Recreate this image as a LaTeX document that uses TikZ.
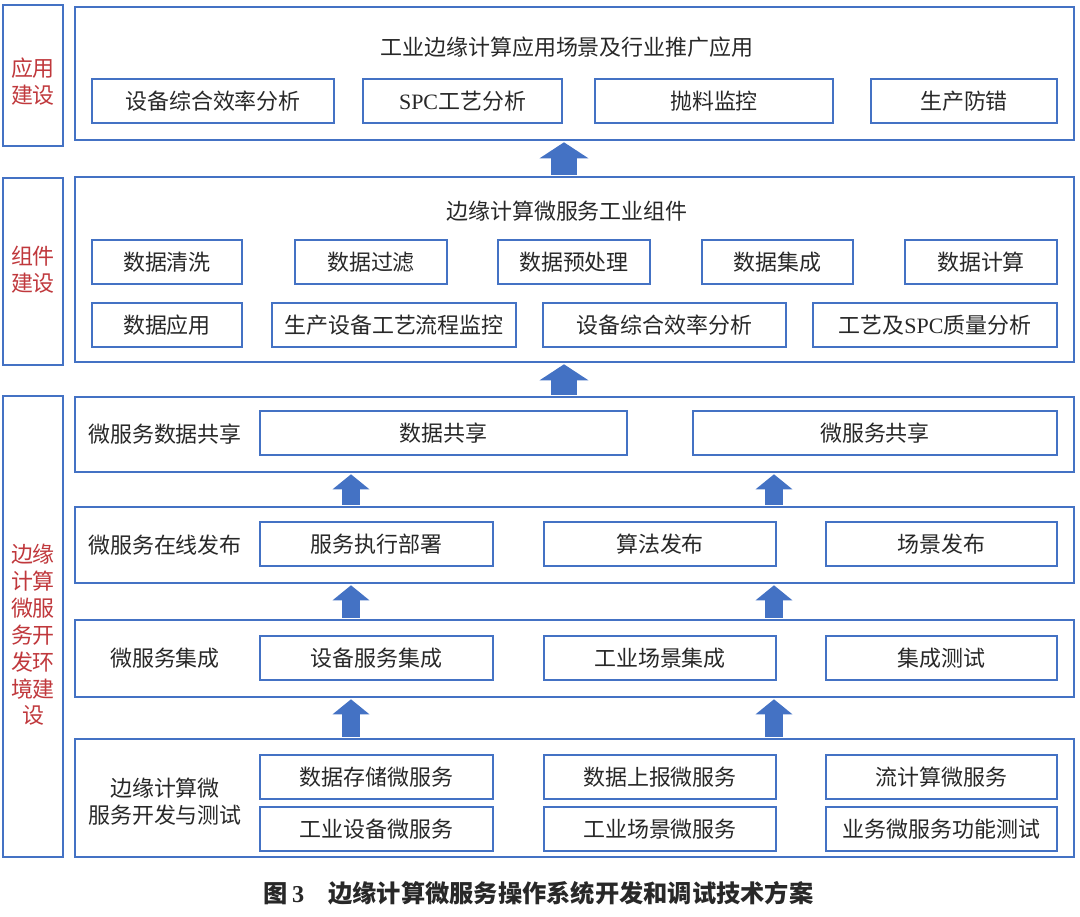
\documentclass[tikz,border=0pt]{standalone}
\usepackage{fontspec}
\setmainfont{Noto Sans CJK SC}
\newfontfamily\latin{Liberation Serif}
\usetikzlibrary{arrows.meta}

\definecolor{boxblue}{RGB}{68,114,196}
\definecolor{labelred}{RGB}{192,56,60}
\definecolor{txt}{RGB}{40,40,40}
\newcommand{\spc}{{\latin SPC}}

\tikzset{
  blk/.style={draw=boxblue,line width=0.9pt,inner sep=0pt,text=txt},
  side/.style={blk,minimum width=1.2cm},
  sidetext/.style={text=labelred,align=center},
  layer/.style={blk,minimum width=19.98cm},
  bigup/.style={boxblue,line width=0.52cm,shorten <=0.03cm,shorten >=0.03cm,-{Triangle[width=0.96cm,length=0.32cm]}},
  smallup/.style={boxblue,line width=0.36cm,shorten <=0.03cm,shorten >=0.03cm,-{Triangle[width=0.72cm,length=0.30cm]}}
}

\begin{document}
\begin{tikzpicture}[x=0.02cm,y=-0.02cm,font=\fontsize{12.5}{15.3}\selectfont]
        % Background
        \useasboundingbox[fill=white] (0,0) rectangle (1080,917);

        % Side labels
        \node[side,minimum height=2.82cm] (side1) at (33,75.5) {};
        \node[side,minimum height=3.74cm] (side2) at (33,271.5) {};
        \node[side,minimum height=9.22cm] (side3) at (33,626.5) {};
        \node[sidetext] (side1txt) at (33,82) {应用\\建设};
        \node[sidetext] (side2txt) at (33,270) {组件\\建设};
        \node[sidetext] (side3txt) at (33,635) {边缘\\计算\\微服\\务开\\发环\\境建\\设};

        % Layers
        \node[layer,minimum height=2.66cm] (app) at (574.5,73.5) {};
        \node[layer,minimum height=3.70cm] (comp) at (574.5,269.5) {};
        \node[layer,minimum height=1.50cm] (share) at (574.5,434.5) {};
        \node[layer,minimum height=1.52cm] (pub) at (574.5,545) {};
        \node[layer,minimum height=1.54cm] (integ) at (574.5,658.5) {};
        \node[layer,minimum height=2.36cm] (dev) at (574.5,798) {};

        % Titles
        \node[text=txt] (apptitle) at (567,47) {工业边缘计算应用场景及行业推广应用};
        \node[text=txt] (comptitle) at (567,211) {边缘计算微服务工业组件};
        \node[text=txt] (sharelbl) at (165,434) {微服务数据共享};
        \node[text=txt] (publbl) at (165,545) {微服务在线发布};
        \node[text=txt] (integlbl) at (165,658) {微服务集成};
        \node[text=txt,align=center] (devlbl) at (165,802) {边缘计算微\\服务开发与测试};

        % Application items
        \foreach \i/\xa/\xb/\t in {1/92/334/设备综合效率分析,2/363/562/\spc 工艺分析,3/595/833/抛料监控,4/871/1057/生产防错}
            \node[blk,minimum width={(\xb-\xa)*0.02cm},minimum height=0.88cm] (app\i) at ({(\xa+\xb)/2},101) {\t};

        % Component items
        \foreach \i/\xa/\xb/\t in {1/92/242/数据清洗,2/295/447/数据过滤,3/498/650/数据预处理,4/702/853/数据集成,5/905/1057/数据计算}
            \node[blk,minimum width={(\xb-\xa)*0.02cm},minimum height=0.88cm] (compa\i) at ({(\xa+\xb)/2},262) {\t};
        \foreach \i/\xa/\xb/\t in {1/92/242/数据应用,2/272/516/生产设备工艺流程监控,3/543/786/设备综合效率分析,4/813/1057/工艺及\spc 质量分析}
            \node[blk,minimum width={(\xb-\xa)*0.02cm},minimum height=0.88cm] (compb\i) at ({(\xa+\xb)/2},325) {\t};

        % Micro service items
        \node[blk,minimum width=7.34cm,minimum height=0.88cm] (share1) at (443.5,433) {数据共享};
        \node[blk,minimum width=7.28cm,minimum height=0.88cm] (share2) at (875,433) {微服务共享};
        \foreach \i/\xa/\xb/\ta/\tb/\tc/\td in {1/260/493/服务执行部署/设备服务集成/数据存储微服务/工业设备微服务,2/544/776/算法发布/工业场景集成/数据上报微服务/工业场景微服务,3/826/1057/场景发布/集成测试/流计算微服务/业务微服务功能测试} {
            \node[blk,minimum width={(\xb-\xa)*0.02cm},minimum height=0.88cm] (pub\i) at ({(\xa+\xb)/2},544) {\ta};
            \node[blk,minimum width={(\xb-\xa)*0.02cm},minimum height=0.88cm] (integ\i) at ({(\xa+\xb)/2},658) {\tb};
            \node[blk,minimum width={(\xb-\xa)*0.02cm},minimum height=0.88cm] (deva\i) at ({(\xa+\xb)/2},777) {\tc};
            \node[blk,minimum width={(\xb-\xa)*0.02cm},minimum height=0.88cm] (devb\i) at ({(\xa+\xb)/2},829) {\td};
        }

        % Arrows
        \coordinate (mx) at (564,0);
        \coordinate (lx) at (351,0);
        \coordinate (rx) at (774,0);
        \draw[bigup] (comp.north -| mx) -- (app.south -| mx);
        \draw[bigup] (share.north -| mx) -- (comp.south -| mx);
        \foreach \lo/\hi in {pub/share,integ/pub,dev/integ} {
            \draw[smallup] (\lo.north -| lx) -- (\hi.south -| lx);
            \draw[smallup] (\lo.north -| rx) -- (\hi.south -| rx);
        }

        % Caption
        \node[text=txt,font=\fontsize{13.8}{16}\selectfont\bfseries] (caption) at (538.5,893) {图\,{\latin 3}\hspace{1em}边缘计算微服务操作系统开发和调试技术方案};
    \end{tikzpicture}
\end{document}
